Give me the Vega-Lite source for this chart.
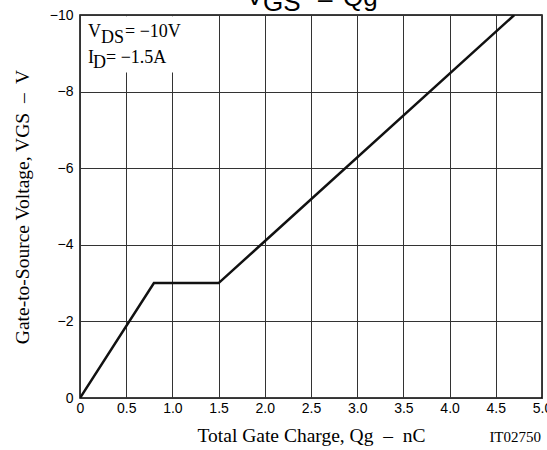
{
  "$schema": "https://vega.github.io/schema/vega-lite/v6.json",
  "width": 462,
  "height": 383,
  "autosize": {"type": "none"},
  "padding": {"left": 80, "top": 15, "right": 5, "bottom": 52},
  "background": "white",
  "config": {"view": {"stroke": "black", "strokeWidth": 1.5}},
  "datasets": {
    "curve": [
      {"qg": 0, "vgs": 0},
      {"qg": 0.8, "vgs": -3},
      {"qg": 1.5, "vgs": -3},
      {"qg": 4.7, "vgs": -10}
    ],
    "one": [{}]
  },
  "layer": [
    {
      "data": {"name": "curve"},
      "mark": {"type": "line", "color": "#111", "strokeWidth": 2.5, "clip": true},
      "encoding": {
        "x": {"field": "qg", "type": "quantitative",
          "scale": {"domain": [0, 5], "nice": false},
          "axis": {"values": [0, 0.5, 1, 1.5, 2, 2.5, 3, 3.5, 4, 4.5, 5],
            "labelExpr": "datum.value == 0 ? '0' : format(datum.value, '.1f')",
            "grid": true, "gridColor": "#333", "gridWidth": 1, "gridOpacity": 1,
            "ticks": false, "domain": false, "labelFlush": false,
            "labelFont": "Liberation Sans", "labelFontSize": 14, "labelColor": "black", "labelPadding": 3,
            "title": "Total Gate Charge, Qg\u00a0 –\u00a0 nC", "titleFont": "Liberation Serif", "titleFontSize": 19.5,
            "titleFontWeight": "normal", "titleColor": "black", "titlePadding": 11}},
        "y": {"field": "vgs", "type": "quantitative",
          "scale": {"domain": [-10, 0], "nice": false, "reverse": true},
          "axis": {"values": [-10, -8, -6, -4, -2, 0],
            "grid": true, "gridColor": "#333", "gridWidth": 1, "gridOpacity": 1,
            "ticks": false, "domain": false,
            "labelFont": "Liberation Sans", "labelFontSize": 14, "labelColor": "black", "labelPadding": 7,
            "title": "Gate-to-Source Voltage, VGS\u00a0 –\u00a0 V", "titleFont": "Liberation Serif", "titleFontSize": 19.5,
            "titleFontWeight": "normal", "titleColor": "black", "titlePadding": 17}}
      }
    },
    {
      "data": {"name": "one"},
      "mark": {"type": "rect", "fill": "white", "stroke": null},
      "encoding": {
        "x": {"datum": 0.02}, "x2": {"datum": 1.3},
        "y": {"datum": -9.97}, "y2": {"datum": -8.5}
      }
    },
    {
      "data": {"name": "one"},
      "mark": {"type": "text", "text": "V", "font": "Liberation Serif", "fontSize": 18, "align": "left", "baseline": "alphabetic", "color": "black", "dx": 8},
      "encoding": {"x": {"datum": 0}, "y": {"datum": -9.43}}
    },
    {
      "data": {"name": "one"},
      "mark": {"type": "text", "text": "DS", "font": "Liberation Serif", "fontSize": 18, "align": "left", "baseline": "alphabetic", "color": "black", "dx": 21, "dy": 6},
      "encoding": {"x": {"datum": 0}, "y": {"datum": -9.43}}
    },
    {
      "data": {"name": "one"},
      "mark": {"type": "text", "text": "= −10V", "font": "Liberation Serif", "fontSize": 18, "align": "left", "baseline": "alphabetic", "color": "black", "dx": 45},
      "encoding": {"x": {"datum": 0}, "y": {"datum": -9.43}}
    },
    {
      "data": {"name": "one"},
      "mark": {"type": "text", "text": "I", "font": "Liberation Serif", "fontSize": 18, "align": "left", "baseline": "alphabetic", "color": "black", "dx": 8},
      "encoding": {"x": {"datum": 0}, "y": {"datum": -8.75}}
    },
    {
      "data": {"name": "one"},
      "mark": {"type": "text", "text": "D", "font": "Liberation Serif", "fontSize": 18, "align": "left", "baseline": "alphabetic", "color": "black", "dx": 13, "dy": 5},
      "encoding": {"x": {"datum": 0}, "y": {"datum": -8.75}}
    },
    {
      "data": {"name": "one"},
      "mark": {"type": "text", "text": "= −1.5A", "font": "Liberation Serif", "fontSize": 18, "align": "left", "baseline": "alphabetic", "color": "black", "dx": 26},
      "encoding": {"x": {"datum": 0}, "y": {"datum": -8.75}}
    },
    {
      "data": {"name": "one"},
      "mark": {"type": "text", "text": "IT02750", "font": "Liberation Serif", "fontSize": 15, "align": "center", "baseline": "alphabetic", "color": "black"},
      "encoding": {"x": {"datum": 4.71}, "y": {"datum": 1.15}}
    },
    {
      "data": {"name": "one"},
      "mark": {"type": "text", "text": "V", "font": "Liberation Sans", "fontSize": 26, "align": "left", "baseline": "alphabetic", "color": "black", "dx": 166, "dy": -10},
      "encoding": {"x": {"datum": 0}, "y": {"datum": -10}}
    },
    {
      "data": {"name": "one"},
      "mark": {"type": "text", "text": "GS", "font": "Liberation Sans", "fontSize": 26, "align": "left", "baseline": "alphabetic", "color": "black", "dx": 183, "dy": -4},
      "encoding": {"x": {"datum": 0}, "y": {"datum": -10}}
    },
    {
      "data": {"name": "one"},
      "mark": {"type": "text", "text": "–", "font": "Liberation Sans", "fontSize": 26, "align": "left", "baseline": "alphabetic", "color": "black", "dx": 238, "dy": -7},
      "encoding": {"x": {"datum": 0}, "y": {"datum": -10}}
    },
    {
      "data": {"name": "one"},
      "mark": {"type": "text", "text": "Qg", "font": "Liberation Sans", "fontSize": 26, "align": "left", "baseline": "alphabetic", "color": "black", "dx": 263, "dy": -9},
      "encoding": {"x": {"datum": 0}, "y": {"datum": -10}}
    }
  ]
}
